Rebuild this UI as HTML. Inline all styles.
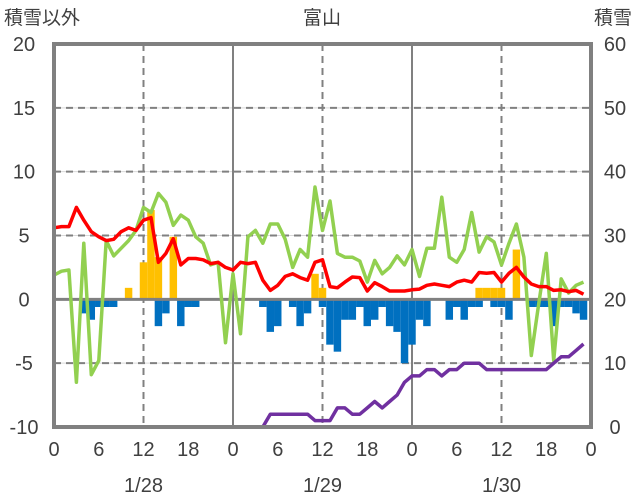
<!DOCTYPE html>
<html><head><meta charset="utf-8"><style>
body{margin:0;background:#fff;}
svg{display:block;font-family:"Liberation Sans","Noto Sans CJK JP",sans-serif;}
</style></head><body>
<svg id="chart" width="636" height="501" viewBox="0 0 636 501">
<rect x="0" y="0" width="636" height="501" fill="#fff"/>
<text x="4" y="24" font-size="19" fill="#404040">積雪以外</text>
<text x="322" y="24" font-size="19" fill="#404040" text-anchor="middle">富山</text>
<text x="632" y="24" font-size="19" fill="#404040" text-anchor="end">積雪</text>
<g id="grid"></g>
<g id="bars"></g>
<g id="lines"></g>
<g id="frame"></g>
<g id="labels"></g>
</svg>
<script>
const hours = Array.from({length:72},(_,i)=>i);
const redSeries = [5.6,5.7,5.7,7.2,6.2,5.3,4.9,4.6,4.7,5.3,5.6,5.4,6.2,6.4,2.9,3.6,4.75,2.7,3.2,3.2,3.1,2.8,2.9,2.5,2.3,2.9,2.8,2.9,1.5,0.7,1.1,1.8,2.0,1.7,1.5,2.9,3.1,1.0,0.9,1.35,1.75,1.7,0.65,1.3,1.0,0.65,0.65,0.65,0.75,0.8,1.1,1.2,1.1,1.0,1.35,1.5,1.35,2.1,2.05,2.1,1.35,2.05,2.5,1.75,1.2,1.0,1.0,0.7,0.75,0.6,0.7,0.4];
const greenSeries = [1.9,2.2,2.3,-6.5,4.4,-5.9,-4.8,4.6,3.4,4.0,4.6,5.4,7.2,6.8,8.3,7.6,5.8,6.6,6.2,4.9,4.4,2.7,2.9,-3.4,2.0,-2.7,4.9,5.4,4.4,5.9,5.9,4.7,2.5,3.9,3.3,8.8,5.4,7.7,3.6,3.3,3.3,3.0,1.35,3.05,2.0,2.5,3.4,2.7,3.9,1.8,4.0,4.0,8.0,3.3,2.9,3.9,6.8,3.7,4.9,4.5,2.7,4.4,5.9,3.3,-4.4,-0.3,3.6,-4.8,1.6,0.5,1.1,1.35];
const orangeBars = {10:0.9,12:2.9,13:7.0,14:3.3,16:4.9,35:2.0,36:0.9,57:0.9,58:0.9,59:0.9,60:0.9,62:3.9};
const blueBars = {4:-1.1,5:-1.6,6:-0.6,7:-0.6,8:-0.6,14:-2.1,15:-1.1,17:-2.1,18:-0.6,19:-0.6,28:-0.6,29:-2.55,30:-2.1,32:-0.6,33:-2.1,34:-1.1,36:-0.6,37:-3.55,38:-4.1,39:-1.6,40:-1.6,41:-0.6,42:-2.1,43:-1.6,44:-0.6,45:-2.1,46:-2.55,47:-5.0,48:-3.55,49:-1.6,50:-2.1,53:-1.6,54:-0.6,55:-1.6,56:-0.6,57:-0.6,59:-0.6,60:-0.6,61:-1.6,64:-0.6,65:-0.6,66:-0.6,67:-2.1,68:-0.6,69:-0.6,70:-1.1,71:-1.6};
const snowDepth = [0,0,0,0,0,0,0,0,0,0,0,0,0,0,0,0,0,0,0,0,0,0,0,0,0,0,0,0,0,2,2,2,2,2,2,1,1,1,3,3,2,2,3,4,3,4,5,7,8,8,9,9,8,9,9,10,10,10,9,9,9,9,9,9,9,9,9,10,11,11,12,13];
const leftTicks = [20,15,10,5,0,-5,-10];
const rightTicks = [60,50,40,30,20,10,0];
const xTickLabels = ["0","6","12","18","0","6","12","18","0","6","12","18","0"];
const dateLabels = ["1/28","1/29","1/30"];

const X0=54, X1=591, YT=44, YB=427;
const xs = h => X0 + (X1-X0)*h/72;
const yl = v => YB - (v+10)/30*(YB-YT);
const yr = v => YB - v/60*(YB-YT);
const NS="http://www.w3.org/2000/svg";
function mk(tag, attrs, parent){const e=document.createElementNS(NS,tag);for(const k in attrs)e.setAttribute(k,attrs[k]);parent.appendChild(e);return e;}
const grid=document.getElementById('grid'), bars=document.getElementById('bars'), lines=document.getElementById('lines'), frame=document.getElementById('frame'), labels=document.getElementById('labels');

leftTicks.forEach(v=>{
  if(v===20||v===-10||v===0) return;
  const g=mk('line',{x1:X0,x2:X1,y1:yl(v),y2:yl(v),stroke:'#d9d9d9','stroke-width':1},grid);
  
  
  const d=mk('line',{x1:X0,x2:X1,y1:yl(v),y2:yl(v),stroke:'#808080','stroke-width':2,'stroke-dasharray':'7 5'},grid);
  
  
});
[12,36,60].forEach(h=>{
  const d=mk('line',{x1:xs(h),x2:xs(h),y1:YT,y2:YB,stroke:'#808080','stroke-width':2,'stroke-dasharray':'7 5'},grid);
  
  
});
[24,48].forEach(h=>{
  const d=mk('line',{x1:xs(h),x2:xs(h),y1:YT,y2:YB,stroke:'#808080','stroke-width':2},grid);
  
  
});

const bw=(X1-X0)/72;
for(const h in orangeBars){
  const v=orangeBars[h];
  const r=mk('rect',{x:xs(+h)-bw/2,y:yl(v),width:bw,height:yl(0)-yl(v),fill:'#ffc000'},bars);
  
  
}
for(const h in blueBars){
  const v=blueBars[h];
  const r=mk('rect',{x:xs(+h)-bw/2,y:yl(0),width:bw,height:yl(v)-yl(0),fill:'#0070c0'},bars);
  
  
}
const zl=mk('line',{x1:X0,x2:X1,y1:yl(0),y2:yl(0),stroke:'#808080','stroke-width':3},bars);



function poly(arr, yf, color, name){
  const p=mk('polyline',{points:arr.map((v,i)=>xs(hours[i]).toFixed(1)+','+yf(v).toFixed(1)).join(' '),fill:'none',stroke:color,'stroke-width':3.5,'stroke-linejoin':'round'},lines);
  
  
}
poly(greenSeries, yl, '#92d050', 'green-series-line');
poly(redSeries, yl, '#ff0000', 'red-series-line');
poly(snowDepth, yr, '#7030a0', 'snow-depth-line');

const fr=mk('rect',{x:X0,y:YT,width:X1-X0,height:YB-YT,fill:'none',stroke:'#808080','stroke-width':4},frame);



leftTicks.forEach(v=>{
  const t=mk('text',{x:24,y:yl(v)+7,'font-size':20,fill:'#404040','text-anchor':'middle'},labels);
  t.textContent=v;
  
  
});
rightTicks.forEach(v=>{
  const t=mk('text',{x:615,y:yr(v)+7,'font-size':20,fill:'#404040','text-anchor':'middle'},labels);
  t.textContent=v;
  
  
});
xTickLabels.forEach((s,i)=>{
  const t=mk('text',{x:xs(i*6),y:456,'font-size':20,fill:'#404040','text-anchor':'middle'},labels);
  t.textContent=s;
  
  
});
dateLabels.forEach((s,i)=>{
  const t=mk('text',{x:xs(12+24*i),y:492,'font-size':20,fill:'#404040','text-anchor':'middle'},labels);
  t.textContent=s;
  
  
});
</script>
</body></html>
